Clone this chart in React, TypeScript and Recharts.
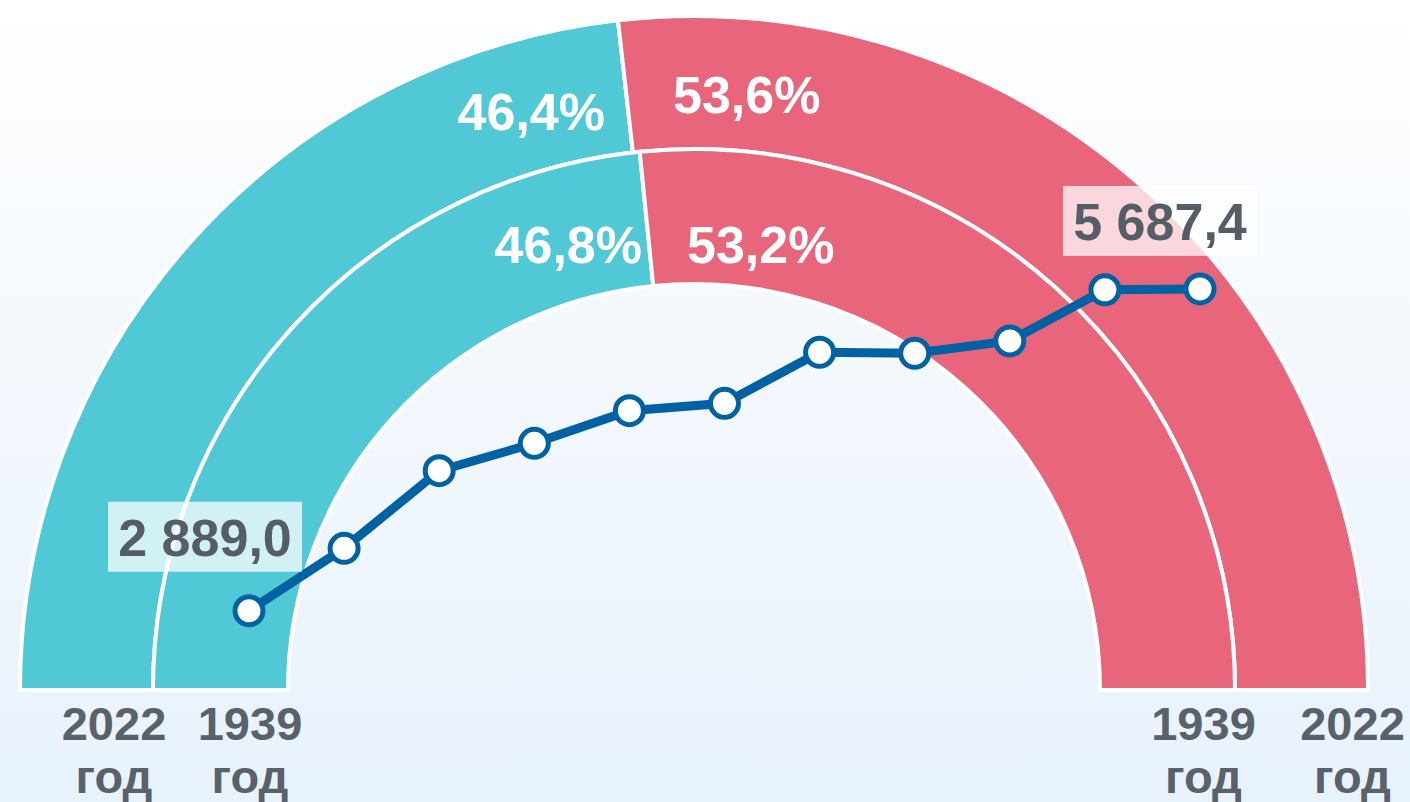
import React from 'react';
import { PieChart, Pie, Cell, LineChart, Line, XAxis, YAxis, LabelList, Customized } from 'recharts';

const W = 1410;
const H = 802;

const genderNames = ['Мужчины', 'Женщины'];
const share2022 = [46.4, 53.6];
const share1939 = [46.8, 53.2];
const ringYears = ['2022', '1939'];
const yearWord = 'год';

const pointCategories = ['2012', '2013', '2014', '2015', '2016', '2017', '2018', '2019', '2020', '2021', '2022'];
const pointValues = [2889.0, 3432.0, 4107.0, 4345.0, 4629.0, 4693.0, 5137.0, 5128.0, 5235.0, 5680.0, 5687.4];

const COLORS = ['#51C8D5', '#E8657C'];
const FONT = '"Liberation Sans", Arial, Helvetica, sans-serif';
const TEXT_GRAY = '#555D67';

const outerData = genderNames.map((name, i) => ({ name, value: share2022[i] }));
const innerData = genderNames.map((name, i) => ({ name, value: share1939[i] }));
const lineData = pointCategories.map((c, i) => ({ cat: c, value: pointValues[i] }));

const CX = 694;
const CY = 690;

const fmtPct = (v: number) => v.toFixed(1).replace('.', ',') + '%';
const fmtNum = (v: number) => {
  const [a, b] = v.toFixed(1).split('.');
  return a.replace(/\B(?=(\d{3})+(?!\d))/g, ' ') + ',' + b;
};

// label offsets relative to the pie centre (style only)
const makePieLabel = (ring: 'outer' | 'inner') => (props: any) => {
  const { cx, cy, index, value } = props;
  const pos =
    ring === 'outer'
      ? index === 0
        ? { x: cx - 89, y: cy - 560, anchor: 'end' }
        : { x: cx - 21, y: cy - 577, anchor: 'start' }
      : index === 0
        ? { x: cx - 52, y: cy - 427, anchor: 'end' }
        : { x: cx - 7, y: cy - 427, anchor: 'start' };
  return (
    <text
      key={`${ring}-${index}`}
      x={pos.x}
      y={pos.y}
      textAnchor={pos.anchor}
      fill="#ffffff"
      fontFamily={FONT}
      fontWeight="bold"
      fontSize={52}
    >
      {fmtPct(value)}
    </text>
  );
};

const YearLabels = () => {
  const items = [
    { x: 114, year: ringYears[0] },
    { x: 250, year: ringYears[1] },
    { x: 1203.5, year: ringYears[1] },
    { x: 1352.5, year: ringYears[0] },
  ];
  return (
    <g>
      {items.map((it, i) => (
        <text
          key={i}
          textAnchor="middle"
          fill="#59616B"
          fontFamily={FONT}
          fontWeight="bold"
          fontSize={47}
        >
          <tspan x={it.x} y={740}>{it.year}</tspan>
          <tspan x={it.x} y={793}>{yearWord}</tspan>
        </text>
      ))}
    </g>
  );
};

const ValueLabel = (props: any) => {
  const { x, y, index, value } = props;
  const last = pointValues.length - 1;
  if (index !== 0 && index !== last) return null;
  const dx = index === 0 ? -44 : -40;
  const bottom = index === 0 ? -39 : -33;
  const bw = 194;
  const bh = 70;
  const cxl = x + dx;
  const by = y + bottom - bh;
  return (
    <g>
      <rect x={cxl - bw / 2} y={by} width={bw} height={bh} fill="rgba(255,255,255,0.74)" />
      <text
        x={cxl}
        y={by + 54}
        textAnchor="middle"
        fill={TEXT_GRAY}
        fontFamily={FONT}
        fontWeight="bold"
        fontSize={52}
      >
        {fmtNum(value)}
      </text>
    </g>
  );
};

export default function App() {
  return (
    <div
      style={{
        position: 'absolute',
        left: 0,
        top: 0,
        width: W,
        height: H,
        overflow: 'hidden',
        background: 'linear-gradient(to bottom, #ffffff 0%, #f3f8fd 45%, #e8f2fb 100%)',
      }}
    >
      <div style={{ position: 'absolute', left: 0, top: 0 }}>
        <PieChart width={W} height={H} margin={{ top: 0, right: 0, bottom: 0, left: 0 }}>
          <Pie
            data={outerData}
            dataKey="value"
            nameKey="name"
            cx={CX}
            cy={CY}
            startAngle={180}
            endAngle={0}
            innerRadius={541}
            outerRadius={674}
            stroke="#ffffff"
            strokeWidth={4}
            label={makePieLabel('outer')}
            labelLine={false}
            isAnimationActive={false}
          >
            {outerData.map((d, i) => (
              <Cell key={d.name} fill={COLORS[i]} />
            ))}
          </Pie>
          <Pie
            data={innerData}
            dataKey="value"
            nameKey="name"
            cx={CX}
            cy={CY}
            startAngle={180}
            endAngle={0}
            innerRadius={406}
            outerRadius={541}
            stroke="#ffffff"
            strokeWidth={4}
            label={makePieLabel('inner')}
            labelLine={false}
            isAnimationActive={false}
          >
            {innerData.map((d, i) => (
              <Cell key={d.name} fill={COLORS[i]} />
            ))}
          </Pie>
          <Customized component={YearLabels} />
        </PieChart>
      </div>
      <div style={{ position: 'absolute', left: 0, top: 0 }}>
        <LineChart
          width={W}
          height={H}
          data={lineData}
          margin={{ top: 253, right: 210, bottom: 89, left: 249 }}
        >
          <XAxis dataKey="cat" hide padding={{ left: 0, right: 0 }} />
          <YAxis type="number" domain={[2000, 6000]} hide allowDataOverflow />
          <Line
            type="linear"
            dataKey="value"
            stroke="#0062A3"
            strokeWidth={9}
            dot={{ r: 14, fill: '#ffffff', stroke: '#0062A3', strokeWidth: 5 }}
            activeDot={false}
            isAnimationActive={false}
          >
            <LabelList dataKey="value" content={ValueLabel} />
          </Line>
        </LineChart>
      </div>
    </div>
  );
}
